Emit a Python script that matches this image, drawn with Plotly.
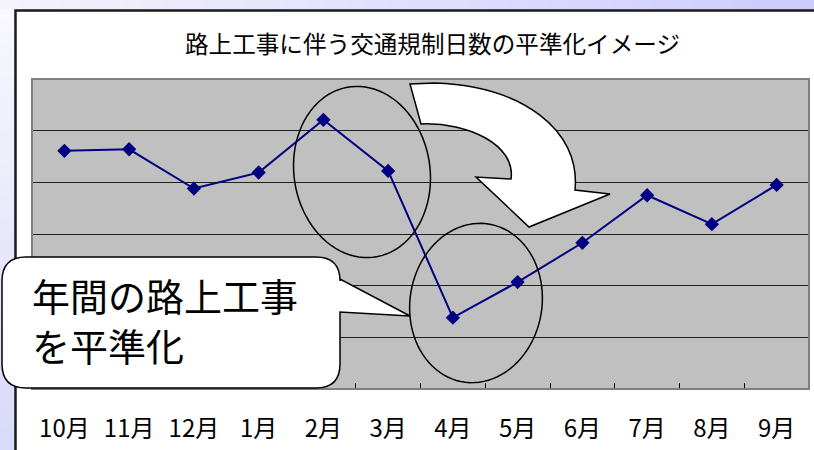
import math
import plotly.graph_objects as go

# ---- data ----
months = ["10月", "11月", "12月", "1月", "2月", "3月", "4月", "5月", "6月", "7月", "8月", "9月"]
values = [4.61, 4.64, 3.88, 4.19, 5.21, 4.22, 1.38, 2.07, 2.83, 3.75, 3.19, 3.95]
title_text = "路上工事に伴う交通規制日数の平準化イメージ"
callout_lines = ["年間の路上工事", "を平準化"]

W, H = 814, 450
L, R, T, B = 32, 5, 79, 61
PW, PH = W - L - R, H - T - B


def px(x):
    return (x - L) / PW


def py(y):
    return (H - B - y) / PH


def pt(x, y):
    return f"{px(x):.5f},{py(y):.5f}"


def ellipse_path(cx, cy, a, b, vx, vy, n=90):
    n_ = math.hypot(vx, vy)
    vx, vy = vx / n_, vy / n_
    ux, uy = vy, -vx
    pts = []
    for i in range(n):
        t = 2 * math.pi * i / n
        x = cx + a * math.cos(t) * ux + b * math.sin(t) * vx
        y = cy + a * math.cos(t) * uy + b * math.sin(t) * vy
        pts.append(pt(x, y))
    return "M " + " L ".join(pts) + " Z"


fig = go.Figure()
fig.add_trace(go.Scatter(
    x=months, y=values, mode="lines+markers",
    line=dict(color="#000080", width=2),
    marker=dict(symbol="diamond", size=11, color="#000080"),
    cliponaxis=False, showlegend=False,
))

shapes = []
# background strips (lavender gradient)
steps = 40
for i in range(steps):
    f = i / (steps - 1)
    c = (int(244 - 40 * f), int(244 - 40 * f), int(252 + 3 * f))
    x0 = W * i / steps
    x1 = W * (i + 1) / steps + 1
    shapes.append(dict(type="rect", xref="paper", yref="paper", layer="below",
                       x0=px(x0), x1=px(x1), y0=py(10), y1=py(0),
                       fillcolor=f"rgb{c}", line=dict(width=0)))
for i in range(steps):
    f = i / (steps - 1)
    c = (int(248 - 30 * f), int(248 - 30 * f), int(254 - 4 * f))
    y0 = 10 + (H - 10) * i / steps
    y1 = 10 + (H - 10) * (i + 1) / steps + 1
    shapes.append(dict(type="rect", xref="paper", yref="paper", layer="below",
                       x0=px(0), x1=px(15), y0=py(y1), y1=py(y0),
                       fillcolor=f"rgb{c}", line=dict(width=0)))
# dark frame border
shapes.append(dict(type="path", xref="paper", yref="paper", layer="below",
                   path=f"M {pt(15.5, 451)} L {pt(15.5, 10.5)} L {pt(815, 10.5)}",
                   line=dict(color="#1a1a1a", width=2.5)))
# plot border (gray)
shapes.append(dict(type="rect", xref="paper", yref="paper", layer="above",
                   x0=0, x1=1, y0=0, y1=1, line=dict(color="#808080", width=2)))

# ellipses
shapes.append(dict(type="path", xref="paper", yref="paper", layer="above",
                   path=ellipse_path(362, 172, 68, 86, 27, 171),
                   line=dict(color="black", width=1.5)))
shapes.append(dict(type="path", xref="paper", yref="paper", layer="above",
                   path=ellipse_path(476, 303, 66, 80, -26, 159),
                   line=dict(color="black", width=1.5)))

# curved arrow
arrow = (f"M {pt(410, 84)} L {pt(421, 124)} "
         f"C {pt(468, 122)} {pt(516, 145)} {pt(511, 179)} "
         f"L {pt(476, 177)} L {pt(529, 227)} L {pt(610, 194)} L {pt(575, 190)} "
         f"C {pt(581, 130)} {pt(522, 86)} {pt(435, 83)} Z")
shapes.append(dict(type="path", xref="paper", yref="paper", layer="above",
                   path=arrow, fillcolor="white", line=dict(color="black", width=1.5)))

# callout bubble
x0, x1, y0, y1, r = 2, 340, 257, 388, 24
callout = (f"M {pt(x0 + r, y0)} L {pt(x1 - r, y0)} Q {pt(x1, y0)} {pt(x1, y0 + r)} "
           f"L {pt(x1, 279)} L {pt(410, 316)} L {pt(x1, 312)} "
           f"L {pt(x1, y1 - r)} Q {pt(x1, y1)} {pt(x1 - r, y1)} "
           f"L {pt(x0 + r, y1)} Q {pt(x0, y1)} {pt(x0, y1 - r)} "
           f"L {pt(x0, y0 + r)} Q {pt(x0, y0)} {pt(x0 + r, y0)} Z")
shapes.append(dict(type="path", xref="paper", yref="paper", layer="above",
                   path=callout, fillcolor="white", line=dict(color="black", width=1.5)))

annotations = [
    dict(text=title_text, xref="paper", yref="paper", x=px(432), y=py(43),
         xanchor="center", yanchor="middle", showarrow=False,
         font=dict(family="Noto Sans CJK JP", size=23.6, color="black")),
]
for line_text, cy in zip(callout_lines, [294, 344]):
    annotations.append(dict(text=line_text, xref="paper", yref="paper", x=px(30), y=py(cy),
                            xanchor="left", yanchor="middle", align="left", showarrow=False,
                            font=dict(family="Noto Sans CJK JP", size=38, color="black")))

fig.update_layout(
    width=W, height=H,
    margin=dict(l=L, r=R, t=T, b=B, pad=0),
    paper_bgcolor="white", plot_bgcolor="#C0C0C0",
    shapes=shapes, annotations=annotations,
    showlegend=False,
    xaxis=dict(
        type="category", range=[-0.5, 11.5], tickson="boundaries",
        ticks="inside", ticklen=6, tickcolor="black", tickwidth=1,
        showgrid=False, showline=True, linecolor="#404040", linewidth=1,
        tickfont=dict(family="Noto Sans CJK JP", size=24, color="black"),
        ticklabelstandoff=18, fixedrange=True,
    ),
    yaxis=dict(
        range=[0, 6], tickvals=[1, 2, 3, 4, 5], showticklabels=False,
        showgrid=True, gridcolor="#202020", gridwidth=1.3,
        zeroline=False, showline=False, ticks="", fixedrange=True,
    ),
)

fig.write_html("out.html")
